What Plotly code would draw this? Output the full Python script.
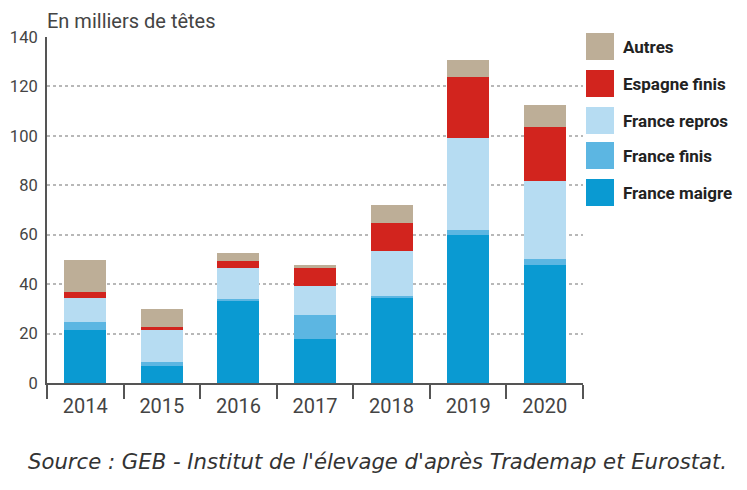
import plotly.graph_objects as go

years = ["2014", "2015", "2016", "2017", "2018", "2019", "2020"]
france_maigre = [21.4, 6.7, 33.0, 17.8, 34.6, 59.7, 47.8]
france_finis = [3.4, 1.7, 1.1, 9.9, 0.8, 2.2, 2.4]
france_repros = [9.6, 13.0, 12.6, 11.5, 18.2, 37.3, 31.4]
espagne_finis = [2.4, 1.4, 2.5, 7.5, 11.1, 24.8, 22.1]
autres = [12.9, 7.0, 3.4, 1.1, 7.4, 6.6, 8.7]
y_ticks = [0, 20, 40, 60, 80, 100, 120, 140]

series = [
    ("France maigre", france_maigre, "#0a9ad2"),
    ("France finis", france_finis, "#5cb6e2"),
    ("France repros", france_repros, "#b6dcf2"),
    ("Espagne finis", espagne_finis, "#d2241e"),
    ("Autres", autres, "#bdae97"),
]

FONT = "Roboto, sans-serif"

fig = go.Figure()
for name, vals, col in series:
    fig.add_trace(go.Bar(x=years, y=vals, name=name, marker_color=col,
                         marker_line_width=0, showlegend=False))

fig.update_layout(
    barmode="stack",
    bargap=0.45,
    width=747, height=490,
    margin=dict(l=39, r=172, t=29, b=115),
    plot_bgcolor="white", paper_bgcolor="white",
    font=dict(family=FONT, color="#444444"),
    xaxis=dict(showline=True, linecolor="#555555", linewidth=2,
               ticks="outside", tickson="boundaries", ticklen=14,
               tickwidth=2, tickcolor="#555555", showgrid=False,
               automargin=False, ticklabelstandoff=4,
               tickfont=dict(size=20, color="#444444")),
    yaxis=dict(range=[0, 140], tickvals=y_ticks,
               showline=True, linecolor="#555555", linewidth=2,
               showgrid=True, gridcolor="#b8b8b8", griddash="dot", gridwidth=1.5,
               zeroline=False, ticks="", ticklabelstandoff=4,
               automargin=False,
               tickfont=dict(size=16.5, color="#444444")),
)

fig.add_annotation(text="En milliers de têtes", xref="paper", yref="paper",
                   x=0, y=1, xshift=-2, yshift=30, xanchor="left", yanchor="top",
                   showarrow=False, font=dict(size=20, color="#444444", family=FONT))

fig.add_annotation(text="<i>Source : GEB - Institut de l'élevage d'après Trademap et Eurostat.</i>",
                   xref="paper", yref="paper", x=0, y=0, xshift=-21, yshift=-64,
                   xanchor="left", yanchor="top", showarrow=False,
                   font=dict(size=21.2, color="#333333", family="DejaVu Sans, sans-serif"))

# manual legend (top to bottom)
legend_order = [series[4], series[3], series[2], series[1], series[0]]
tops = [33, 70, 107, 142, 179]
for (name, vals, col), top in zip(legend_order, tops):
    fig.add_shape(type="rect", xref="paper", yref="paper",
                  xsizemode="pixel", ysizemode="pixel",
                  xanchor=1.0, yanchor=1.0,
                  x0=3, x1=31, y0=37 - top, y1=37 - top - 27,
                  fillcolor=col, line_width=0)
    fig.add_annotation(text="<b>" + name + "</b>", xref="paper", yref="paper",
                       x=1, y=1, xshift=38, yshift=37 - top - 13.5,
                       xanchor="left", yanchor="middle", showarrow=False,
                       font=dict(size=17, color="#222222", family=FONT))

fig.write_html("out.html")
